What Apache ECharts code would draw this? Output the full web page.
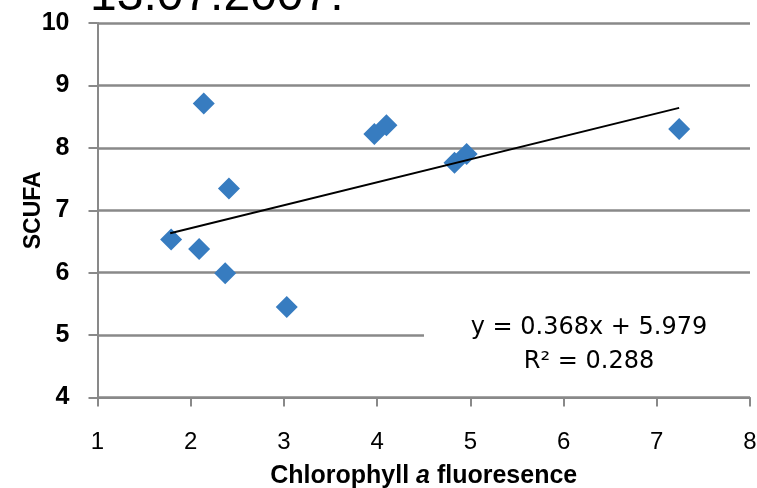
<!DOCTYPE html>
<html>
<head>
<meta charset="utf-8">
<script src="https://cdn.jsdelivr.net/npm/echarts@6/dist/echarts.min.js"></script>
<style>html,body{margin:0;padding:0;background:#fff}#c{width:757px;height:488px}</style>
</head>
<body>
<div id="c"></div>
<script>
var titleText = '13.07.2007:';
var xName = 'Chlorophyll a fluoresence';
var yName = 'SCUFA';
var xValues = [1.79, 2.09, 2.14, 2.37, 2.41, 3.03, 3.97, 4.10, 4.83, 4.96, 7.24];
var yValues = [6.53, 6.38, 8.71, 5.99, 7.35, 5.45, 8.22, 8.36, 7.76, 7.90, 8.30];
var trendX = [1.78, 7.24];
var trendY = [6.63, 8.64];
var equationLines = ['y = 0.368x + 5.979', 'R\u00b2 = 0.288'];
var xTicks = [1, 2, 3, 4, 5, 6, 7, 8];
var yTicks = [4, 5, 6, 7, 8, 9, 10];

var pts = xValues.map(function (x, i) { return [x, yValues[i]]; });
var trend = trendX.map(function (x, i) { return [x, trendY[i]]; });

var chart = echarts.init(document.getElementById('c'));
var grey = '#898989';
chart.setOption({
  animation: false,
  grid: { left: 97.5, right: 7, top: 23, bottom: 90.5, containLabel: false, outerBoundsMode: 'none' },
  xAxis: {
    type: 'value', min: xTicks[0], max: xTicks[xTicks.length - 1], interval: 1,
    name: '{b|Chlorophyll }{i|a}{b| fluoresence}',
    nameLocation: 'middle', nameGap: 66, nameMoveOverlap: false,
    nameTextStyle: {
      rich: {
        b: { fontFamily: 'Liberation Sans', fontWeight: 'bold', fontSize: 25, color: '#000' },
        i: { fontFamily: 'Liberation Sans', fontWeight: 'bold', fontStyle: 'italic', fontSize: 25, color: '#000' }
      }
    },
    axisLine: { show: true, lineStyle: { color: grey, width: 2 } },
    axisTick: { show: true, length: 9, lineStyle: { color: grey, width: 2 } },
    axisLabel: { margin: 33, fontFamily: 'Liberation Sans', fontSize: 24, color: '#000' },
    splitLine: { show: false }
  },
  yAxis: {
    type: 'value', min: yTicks[0], max: yTicks[yTicks.length - 1], interval: 1,
    name: yName, nameLocation: 'middle', nameGap: 52, nameMoveOverlap: false,
    nameTextStyle: { fontFamily: 'Liberation Sans', fontWeight: 'bold', fontSize: 23, color: '#000' },
    axisLine: { show: true, lineStyle: { color: grey, width: 2 } },
    axisTick: { show: true, length: 9, lineStyle: { color: grey, width: 2 } },
    axisLabel: { margin: 28, fontFamily: 'Liberation Sans', fontWeight: 'bold', fontSize: 25, color: '#000' },
    splitLine: { show: true, lineStyle: { color: grey, width: 2.5 } }
  },
  graphic: [
    { type: 'rect', shape: { x: 424, y: 305, width: 328, height: 80 }, style: { fill: '#fff' }, z: 1 },
    { type: 'text', x: 589, y: 328, z: 2, style: { text: equationLines[0], fontFamily: 'DejaVu Sans', fontSize: 24, fill: '#000', align: 'center', verticalAlign: 'middle' } },
    { type: 'text', x: 589, y: 362, z: 2, style: { text: equationLines[1], fontFamily: 'DejaVu Sans', fontSize: 24, fill: '#000', align: 'center', verticalAlign: 'middle' } },
    { type: 'text', x: 90, y: 21, z: 2, style: { text: titleText, fontFamily: 'Liberation Sans', fontSize: 48, fill: '#000', align: 'left', verticalAlign: 'bottom' } }
  ],
  series: [
    {
      type: 'scatter', data: pts, symbol: 'diamond', symbolSize: 22,
      itemStyle: { color: '#377CC0', opacity: 1 }, z: 3
    },
    {
      type: 'line', data: trend, showSymbol: false, symbol: 'none',
      lineStyle: { color: '#000', width: 2 }, z: 4
    }
  ]
});
</script>
</body>
</html>
